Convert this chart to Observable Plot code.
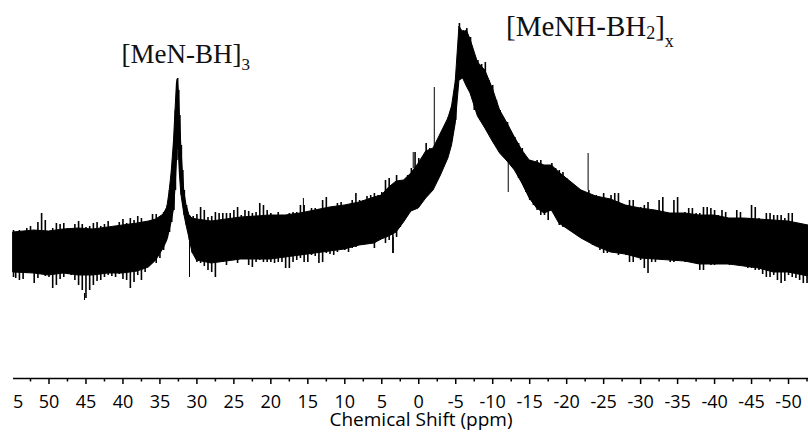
<!DOCTYPE html>
<html><head><meta charset="utf-8">
<script src="https://cdn.jsdelivr.net/npm/d3@7"></script>
<script src="https://cdn.jsdelivr.net/npm/@observablehq/plot@0.6"></script>
<style>html,body{margin:0;padding:0;background:#fff}#chart svg{display:block}</style>
</head><body><div id="chart"></div>
<script>
// ---- dense core of the noisy trace (intensity, a.u.) ----
const corePpm = [54.8,52,50,48,46,44,42,40,38,36.5,35.5,34.5,34,33.7,33.4,33.1,32.9,32.7,32.6,32.45,32.3,32.1,31.9,31.7,31.4,31,30.6,
  30,28,26,24,22,20,18,16,14,12,10,8,6,5,4,3,2,1,0,-1,-2,-3,-4,-4.5,-5,-5.5,-6,-6.5,-7,-8,-9,-10,-11,-12,-13,-14,-15,-16,-17,-18,-19,-20,
  -22,-24,-26,-28,-30,-32,-34,-36,-38,-40,-42,-44,-46,-48,-50,-52.7];
const coreHi = [146,148,147,149,150,149,151,153,155,157,159,164,171,186,207,237,267,295,299,287,262,232,207,187,173,163,160,
  159,157,159,161,162,163,163,165,168,171,173,176,181,183,191,197,198,205,215,227,230,245,260,272,297,352,346,348,339,316,308,290,268,255,241,228,218,216,213,213,206,200,
  188,182,179,173,170,168,165,165,163,163,160,160,159,158,157,153];
const coreLo = [106,105,103,105,103,103,105,105,107,111,118,130,138,147,157,169,189,217,235,227,204,184,174,164,153,140,126,
  118,115,117,119,119,119,121,123,125,127,129,133,135,139,142,146,156,167,170,180,188,203,220,233,255,298,300,292,285,262,250,237,225,217,208,195,180,170,165,168,155,150,
  140,132,126,124,120,119,118,117,114,114,114,112,110,106,106,102];

// ---- extremes of the noise at whole-ppm samples ----
const ppm = [54.8,54,53,52,51,50,49,48,47,46,45,44,43,42,41,40,39,38,37,36,35,
  34.5,34,33.7,33.4,33.1,32.9,32.7,32.6,32.45,32.3,32.1,31.9,31.7,31.4,31,30.6,
  30,29,28,27,26,25,24,23,22,21,20,19,18,17,16,15,14,13,12,11,10,9,8,7,6,5,4,3,2,1,0,-1,-2,-3,-4,
  -4.5,-5,-5.5,-6,-6.5,-7,
  -8,-9,-10,-11,-12,-13,-14,-15,-16,-17,-18,-19,-20,-21,-22,-23,-24,-25,-26,-27,-28,-29,-30,
  -31,-32,-33,-34,-35,-36,-37,-38,-39,-40,-41,-42,-43,-44,-45,-46,-47,-48,-49,-50,-51,-52,
  -52.7];
const hi = [148,148,150,141,165,145,155,155,148,157,151,155,152,157,152,159,160,162,156,164,162,
  166,173,188,208,238,268,296,300,288,263,233,208,188,173,163,160,
  164,168,162,165,165,168,163,167,166,173,165,166,160,166,173,164,170,178,171,175,172,178,178,182,185,186,200,203,198,210,220,235,230,245,261,
  273,298,355,348,350,341,
  318,316,293,268,256,241,230,218,218,212,215,208,200,193,188,188,183,185,183,185,173,178,171,
  176,168,181,163,181,166,170,165,171,168,168,158,168,158,173,160,165,163,163,165,155,153,
  151];
const lo = [101,98,105,95,105,101,93,101,103,93,80,93,98,103,101,99,90,103,106,117,120,
  128,140,146,156,168,188,218,238,228,203,183,173,163,153,138,125,
  116,112,106,116,113,118,120,113,116,116,116,116,110,116,120,116,122,116,124,126,128,130,133,134,130,143,138,141,157,172,173,183,193,208,226,
  238,258,298,300,293,286,
  263,251,238,226,218,210,195,178,168,163,173,153,151,145,140,138,133,125,128,123,123,116,118,
  105,116,120,116,120,116,118,108,115,113,115,113,115,113,110,108,101,103,95,103,100,95,
  95];

// ---- extremes of the noise at half-ppm samples ----
const halfPpm = [54.5,53.5,52.5,51.5,50.5,49.5,48.5,47.5,46.5,45.5,44.5,43.5,42.5,41.5,40.5,39.5,38.5,37.5,36.5,35.5,
  30.5,29.5,28.5,27.5,26.5,25.5,24.5,23.5,22.5,21.5,20.5,
  19.5,18.5,17.5,16.5,15.5,14.5,13.5,12.5,11.5,10.5,9.5,8.5,7.5,6.5,5.5,4.5,3.5,2.5,1.5,0.5,
  -0.5,-1.5,-2.5,-3.5,
  -7.5,-8.5,-9.5,-10.5,-11.5,-12.5,-13.5,-14.5,-15.5,-16.5,
  -17.5,-18.5,-19.5,-20.5,-21.5,-22.5,-23.5,-24.5,-25.5,-26.5,-27.5,-28.5,-29.5,-30.5,-31.5,-32.5,-33.5,-34.5,
  -35.5,-36.5,-37.5,-38.5,-39.5,-40.5,-41.5,-42.5,-43.5,-44.5,-45.5,-46.5,-47.5,-48.5,-49.5,-50.5,-51.5,-52.5];
const halfHi = [146,146,152,156,158,150,154,150,154,154,152,156,154,151,156,155,158,160,157,164,
  162,171,161,166,165,165,171,168,165,175,168,
  160,160,165,166,173,170,166,181,171,176,171,185,178,183,183,198,191,195,203,226,
  221,230,238,251,
  318,314,298,278,258,245,235,221,216,218,
  213,210,206,196,190,186,182,181,178,185,171,178,168,173,165,178,161,178,
  163,170,165,171,170,163,166,158,166,160,171,158,165,163,160,165,155,151];
const halfLo = [100,99,107,100,102,90,99,104,98,88,88,97,101,102,104,98,96,98,112,115,
  125,115,108,101,116,118,115,121,111,118,116,
  115,116,110,118,116,123,115,125,123,130,126,131,133,135,138,135,125,151,168,173,
  178,191,203,215,
  268,260,245,233,223,213,200,186,173,163,
  158,173,151,150,142,138,133,128,125,128,131,116,125,110,116,120,121,116,
  118,117,116,108,113,115,115,115,114,110,108,104,101,98,97,101,98,95];

// ---- isolated tall spikes ----
const spikePpm  = [-2.1, -22.9, -12.1, 31.0, 3.45, 15.6, 45.2, 0.75];
const spikeFrom = [230, 188, 218, 138, 141, 165, 85, 210];
const spikeTo   = [291, 225, 186, 101, 125, 180, 78, 226];

// ---- axis ----
const majorTicks = [50,45,40,35,30,25,20,15,10,5,0,-5,-10,-15,-20,-25,-30,-35,-40,-45,-50];
const minorTicks = [52.5,47.5,42.5,37.5,32.5,27.5,22.5,17.5,12.5,7.5,2.5,-2.5,-7.5,-12.5,-17.5,-22.5,-27.5,-32.5,-37.5,-42.5,-47.5,-52.5];
const xTitle = "Chemical Shift (ppm)";

// ---- peak annotations ----
const labelText = ["[MeN-BH]3", "[MeNH-BH2]x"];
const labelPpm  = [40.2, -11.8];
const labelInt  = [316, 343];
const labelSize = [27, 29];
const labelParts = {
  "[MeN-BH]3": [["[MeN-BH]", 0, null], ["3", 7, 17]],
  "[MeNH-BH2]x": [["[MeNH-BH", 0, null], ["2", 3, 18], ["]", -3, null], ["x", 11, 18]]
};

const core = corePpm.map((p, i) => ({p, hi: coreHi[i], lo: coreLo[i]}));
const noise = ppm.map((p, i) => ({p, hi: hi[i], lo: lo[i]}))
  .concat(halfPpm.map((p, i) => ({p, hi: halfHi[i], lo: halfLo[i]})));
const spikes = spikePpm.map((p, i) => ({p, from: spikeFrom[i], to: spikeTo[i]}));
const labels = labelText.map((t, i) => ({t, p: labelPpm[i], v: labelInt[i], s: labelSize[i]}));

const chart = Plot.plot({
  width: 808, height: 434,
  marginTop: 0, marginBottom: 56, marginLeft: 13, marginRight: 0,
  x: {domain: [54.8, -52.7], axis: null},
  y: {domain: [0, 378], axis: null},
  style: {fontFamily: "'Open Sans', sans-serif", color: "#000", background: "#fff", overflow: "visible"},
  marks: [
    Plot.areaY(core, {x: "p", y1: "lo", y2: "hi", fill: "#000", stroke: "#000", strokeWidth: 1}),
    Plot.ruleX(noise, {x: "p", y1: "lo", y2: "hi", stroke: "#000", strokeWidth: 1.6}),
    Plot.ruleX(spikes, {x: "p", y1: "from", y2: "to", stroke: "#000", strokeWidth: 1}),
    Plot.ruleY([0], {stroke: "#000", strokeWidth: 1.6}),
    Plot.axisX({ticks: majorTicks, label: null, tickSize: 6, tickPadding: 11, fontSize: 18, strokeWidth: 1.5, tickFormat: d => String(d), fill: "#000"}),
    Plot.axisX({ticks: minorTicks, label: null, tickSize: 3.5, strokeWidth: 1.5, tickFormat: () => ""}),
    Plot.axisX({ticks: [55], label: null, tickSize: 0, tickPadding: 17, fontSize: 18, textAnchor: "start", dx: 1, tickFormat: () => "5", fill: "#000"}),
    Plot.text(labels, {x: "p", y: "v", text: "t", fontSize: "s", textAnchor: "start", lineAnchor: "bottom",
      fontFamily: "'Liberation Serif', 'Times New Roman', serif", fill: "#111"}),
    Plot.text([xTitle], {text: d => d, frameAnchor: "bottom", lineAnchor: "bottom", dx: 10, dy: 47, fontSize: 19, fill: "#000"})
  ]
});

// rebuild annotation texts with subscripts
chart.querySelectorAll("text").forEach(t => {
  const parts = labelParts[t.textContent];
  if (!parts) return;
  t.textContent = "";
  parts.forEach(([s, dy, fs]) => {
    const ts = document.createElementNS("http://www.w3.org/2000/svg", "tspan");
    ts.textContent = s;
    if (dy) ts.setAttribute("dy", dy);
    if (fs) ts.setAttribute("font-size", fs);
    t.appendChild(ts);
  });
});
document.getElementById("chart").appendChild(chart);
</script>
</body></html>
